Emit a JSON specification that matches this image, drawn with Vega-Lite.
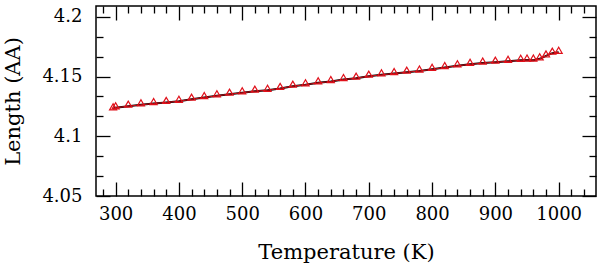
{
  "$schema": "https://vega.github.io/schema/vega-lite/v6.json",
  "autosize": {"type": "none"},
  "width": 500,
  "height": 190,
  "padding": {"left": 96, "top": 6, "right": 4, "bottom": 71},
  "background": "white",
  "config": {
    "view": {"stroke": "black", "strokeWidth": 1.5},
    "axis": {
      "domain": false,
      "grid": false,
      "labelFont": "DejaVu Serif",
      "labelFontSize": 18,
      "labelColor": "black",
      "titleFont": "DejaVu Serif",
      "titleFontSize": 21,
      "titleFontWeight": "normal",
      "titleColor": "black",
      "tickColor": "black",
      "tickWidth": 1.3
    }
  },
  "data": {
    "values": [
      {"T": 296, "L": 4.1230}, {"T": 300, "L": 4.1238}, {"T": 320, "L": 4.1252},
      {"T": 340, "L": 4.1263}, {"T": 360, "L": 4.1274}, {"T": 380, "L": 4.1283},
      {"T": 400, "L": 4.1293}, {"T": 420, "L": 4.1310}, {"T": 440, "L": 4.1324},
      {"T": 460, "L": 4.1339}, {"T": 480, "L": 4.1352}, {"T": 500, "L": 4.1364},
      {"T": 520, "L": 4.1377}, {"T": 540, "L": 4.1385}, {"T": 560, "L": 4.1400},
      {"T": 580, "L": 4.1419}, {"T": 600, "L": 4.1431}, {"T": 620, "L": 4.1447},
      {"T": 640, "L": 4.1458}, {"T": 660, "L": 4.1475}, {"T": 680, "L": 4.1486},
      {"T": 700, "L": 4.1503}, {"T": 720, "L": 4.1514}, {"T": 740, "L": 4.1525},
      {"T": 760, "L": 4.1536}, {"T": 780, "L": 4.1546}, {"T": 800, "L": 4.1560},
      {"T": 820, "L": 4.1575}, {"T": 840, "L": 4.1590}, {"T": 860, "L": 4.1602},
      {"T": 880, "L": 4.1612}, {"T": 900, "L": 4.1620}, {"T": 920, "L": 4.1627},
      {"T": 940, "L": 4.1636}, {"T": 950, "L": 4.1638}, {"T": 960, "L": 4.1637},
      {"T": 970, "L": 4.1648}, {"T": 980, "L": 4.1672}, {"T": 990, "L": 4.1695},
      {"T": 1000, "L": 4.1703}
    ]
  },
  "layer": [
    {
      "mark": {"type": "line", "color": "black", "strokeWidth": 2},
      "encoding": {
        "x": {
          "field": "T", "type": "quantitative",
          "scale": {"domain": [269, 1059], "nice": false, "zero": false},
          "axis": {
            "orient": "bottom",
            "title": "Temperature (K)",
            "values": [280, 300, 320, 340, 360, 380, 400, 420, 440, 460, 480, 500, 520, 540, 560, 580, 600, 620, 640, 660, 680, 700, 720, 740, 760, 780, 800, 820, 840, 860, 880, 900, 920, 940, 960, 980, 1000, 1020, 1040],
            "labelExpr": "datum.value % 100 === 0 ? '' + datum.value : ''",
            "tickSize": {"condition": {"test": "datum.value % 100 === 0", "value": -14}, "value": -7},
            "labelPadding": 23,
            "titlePadding": 18
          }
        },
        "y": {
          "field": "L", "type": "quantitative",
          "scale": {"domain": [4.05, 4.209], "nice": false, "zero": false},
          "axis": {
            "orient": "left",
            "title": "Length (AA)",
            "values": [4.05, 4.0666667, 4.0833333, 4.1, 4.1166667, 4.1333333, 4.15, 4.1666667, 4.1833333, 4.2],
            "labelExpr": "abs(round(datum.value * 20) / 20 - datum.value) < 0.000001 ? format(datum.value, '') : ''",
            "tickSize": {"condition": {"test": "abs(round(datum.value * 20) / 20 - datum.value) < 0.000001", "value": -14}, "value": -7},
            "labelPadding": 28,
            "titlePadding": 18
          }
        }
      }
    },
    {
      "mark": {"type": "line", "color": "#d0101a", "strokeWidth": 1},
      "encoding": {
        "x": {"field": "T", "type": "quantitative", "axis": null},
        "y": {"field": "L", "type": "quantitative", "axis": null}
      }
    },
    {
      "mark": {"type": "point", "shape": "triangle-up", "filled": false, "color": "#e0101a", "size": 50, "strokeWidth": 1.2, "yOffset": -2, "opacity": 1},
      "encoding": {
        "x": {
          "field": "T", "type": "quantitative",
          "axis": {
            "orient": "top",
            "title": null,
            "values": [280, 300, 320, 340, 360, 380, 400, 420, 440, 460, 480, 500, 520, 540, 560, 580, 600, 620, 640, 660, 680, 700, 720, 740, 760, 780, 800, 820, 840, 860, 880, 900, 920, 940, 960, 980, 1000, 1020, 1040],
            "labels": false,
            "tickSize": {"condition": {"test": "datum.value % 100 === 0", "value": -14}, "value": -7}
          }
        },
        "y": {
          "field": "L", "type": "quantitative",
          "axis": {
            "orient": "right",
            "title": null,
            "values": [4.05, 4.0666667, 4.0833333, 4.1, 4.1166667, 4.1333333, 4.15, 4.1666667, 4.1833333, 4.2],
            "labels": false,
            "tickSize": {"condition": {"test": "abs(round(datum.value * 20) / 20 - datum.value) < 0.000001", "value": -14}, "value": -7}
          }
        }
      }
    }
  ],
  "resolve": {"axis": {"x": "independent", "y": "independent"}}
}
